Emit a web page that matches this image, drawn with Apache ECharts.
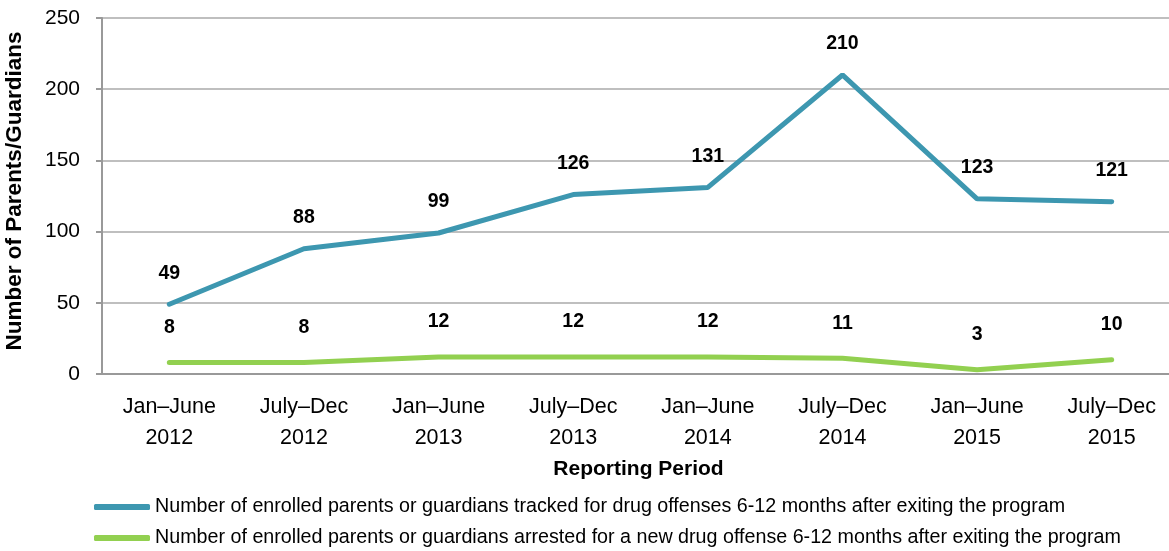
<!DOCTYPE html>
<html>
<head>
<meta charset="utf-8">
<script src="https://cdn.jsdelivr.net/npm/echarts@6/dist/echarts.min.js"></script>
<style>
  html, body { margin: 0; padding: 0; background: #fff; }
  #chart { width: 1169px; height: 551px; }
</style>
</head>
<body>
<div id="chart"></div>
<script>
// data
var periods = ['Jan\u2013June\n2012', 'July\u2013Dec\n2012', 'Jan\u2013June\n2013', 'July\u2013Dec\n2013',
               'Jan\u2013June\n2014', 'July\u2013Dec\n2014', 'Jan\u2013June\n2015', 'July\u2013Dec\n2015'];
var tracked = [49, 88, 99, 126, 131, 210, 123, 121];
var arrested = [8, 8, 12, 12, 12, 11, 3, 10];
var trackedName = 'Number of enrolled parents or guardians tracked for drug offenses 6-12 months after exiting the program';
var arrestedName = 'Number of enrolled parents or guardians arrested for a new drug offense 6-12 months after exiting the program';

var font = "'Liberation Sans', Arial, sans-serif";

var dom = document.getElementById('chart');
var myChart = echarts.init(dom);
var option = {
    color: ['#3d97b0', '#92d050'],
    textStyle: { fontFamily: font },
    animation: false,
    grid: {
        left: 102,
        right: -10,
        top: 18,
        bottom: 177,
        outerBoundsMode: 'none',
        containLabel: false
    },
    legend: {
        orient: 'vertical',
        left: 94,
        top: 497,
        padding: 0,
        itemWidth: 56,
        itemHeight: 6,
        itemGap: 11,
        icon: 'roundRect',
        textStyle: { fontSize: 19.7, color: '#000', fontFamily: font },
        data: [trackedName, arrestedName]
    },
    xAxis: {
        type: 'category',
        data: periods,
        name: 'Reporting Period',
        nameLocation: 'middle',
        nameGap: 83,
        nameTextStyle: { fontSize: 21, fontWeight: 'bold', color: '#000', fontFamily: font, padding: [0, 4, 0, 0] },
        axisTick: { show: false },
        axisLine: { lineStyle: { color: '#999', width: 2 } },
        axisLabel: {
            fontSize: 21.5,
            color: '#000',
            margin: 18,
            lineHeight: 31,
            fontFamily: font
        }
    },
    yAxis: {
        type: 'value',
        min: 0,
        max: 250,
        interval: 50,
        name: 'Number of Parents/Guardians',
        nameLocation: 'middle',
        nameGap: 76,
        nameTextStyle: { fontSize: 22.5, fontWeight: 'bold', color: '#000', fontFamily: font, padding: [0, 0, 0, 10] },
        axisLine: { show: true, lineStyle: { color: '#999', width: 2 } },
        axisTick: { show: true, length: 6, lineStyle: { color: '#999', width: 2 } },
        splitLine: { lineStyle: { color: '#bfbfbf', width: 2 } },
        axisLabel: { fontSize: 21, color: '#000', margin: 22, fontFamily: font }
    },
    series: [
        {
            name: trackedName,
            type: 'line',
            data: tracked,
            symbol: 'circle',
            symbolSize: 2,
            lineStyle: { width: 5, cap: 'round' },
            label: {
                show: true,
                position: 'top',
                distance: 20,
                fontSize: 19.5,
                fontWeight: 'bold',
                color: '#000',
                fontFamily: font
            }
        },
        {
            name: arrestedName,
            type: 'line',
            data: arrested,
            symbol: 'circle',
            symbolSize: 2,
            lineStyle: { width: 5, cap: 'round' },
            label: {
                show: true,
                position: 'top',
                distance: 24,
                fontSize: 19.5,
                fontWeight: 'bold',
                color: '#000',
                fontFamily: font
            }
        }
    ]
};
if (option && typeof option === 'object') {
    myChart.setOption(option, true);
    window.onresize = myChart.resize;
}
</script>
</body>
</html>
